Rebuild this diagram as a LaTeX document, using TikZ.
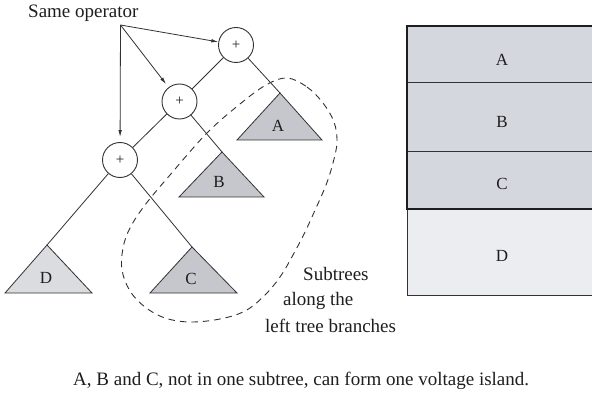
\documentclass[tikz,border=0pt]{standalone}
\usepackage{fontspec}
\setmainfont{Liberation Serif}
\usetikzlibrary{arrows.meta}
\definecolor{ink}{RGB}{30,30,30}
\definecolor{linec}{RGB}{50,50,50}
\definecolor{trifill}{RGB}{198,199,205}
\definecolor{trilight}{RGB}{219,220,224}
\definecolor{boxabc}{RGB}{213,215,223}
\definecolor{boxd}{RGB}{236,237,241}
\begin{document}
\begin{tikzpicture}[x=1pt,y=-1pt,
  opnode/.style={circle,draw=linec,line width=0.9pt,minimum size=35pt,inner sep=0pt,font=\fontsize{15}{15}\selectfont,text=ink},
  treeedge/.style={draw=linec,line width=0.8pt},
  tri/.style={draw=linec,line width=0.8pt},
  lab/.style={inner sep=0pt,font=\fontsize{17}{17}\selectfont,text=ink},
  txt/.style={inner sep=0pt,anchor=base west,font=\fontsize{19}{19}\selectfont,text=ink},
  arr/.style={draw=linec,line width=0.8pt,-{Latex[length=7pt,width=3.5pt]}},
  dashloop/.style={draw=linec,line width=0.9pt,dash pattern=on 6.5pt off 5pt}]
\clip (0,0) rectangle (592,393);
\fill[white] (0,0) rectangle (592,393);

% right box
\fill[boxabc] (407,26) rectangle (597,209);
\fill[boxd] (407,209) rectangle (597,295);
\draw[draw=linec,line width=0.8pt] (407,209) -- (407,295) -- (597,295);
\draw[draw=linec,line width=1pt] (407,83) -- (597,83);
\draw[draw=linec,line width=1pt] (407,152) -- (597,152);
\draw[draw=ink,line width=2pt] (407,26) rectangle (597,209);
\node[lab] (bA) at (502,60) {A};
\node[lab] (bB) at (502,122) {B};
\node[lab] (bC) at (502,184) {C};
\node[lab] (bD) at (502,256) {D};

% triangles
\coordinate (tA) at (280,93);
\coordinate (tB) at (222,152);
\coordinate (tC) at (192,247);
\coordinate (tD) at (47,245);
\filldraw[tri,fill=trifill] (tA) -- (322,140) -- (237,140) -- cycle;
\filldraw[tri,fill=trifill] (tB) -- (264,197) -- (179,197) -- cycle;
\filldraw[tri,fill=trifill] (tC) -- (237,293) -- (150,293) -- cycle;
\filldraw[tri,fill=trilight] (tD) -- (92,293) -- (5,293) -- cycle;
\node[lab] (lA) at (278,126) {A};
\node[lab] (lB) at (219,182) {B};
\node[lab] (lC) at (191,279) {C};
\node[lab] (lD) at (46,278) {D};

% operators
\node[opnode] (p1) at (236,45) {+};
\node[opnode] (p2) at (179.5,101.5) {+};
\node[opnode] (p3) at (120,160) {+};
\draw[treeedge] (p1) -- (p2);
\draw[treeedge] (p1) -- (tA);
\draw[treeedge] (p2) -- (p3);
\draw[treeedge] (p2) -- (tB);
\draw[treeedge] (p3) -- (tD);
\draw[treeedge] (p3) -- (tC);

% label and arrows
\node[txt] (so) at (28,18) {Same operator};
\coordinate (s) at (120.5,25);
\draw[arr] (s) -- (p1);
\draw[arr,shorten >=4pt] (s) -- (p2);
\draw[arr,shorten >=5pt] (s) -- (p3);

% dashed loop
\draw[dashloop] plot[smooth cycle,tension=0.6] coordinates {
 (287,78) (307,87) (323,103) (334,122) (337,142) (333,163) (326,185)
 (316,208) (305,232) (293,255) (280,277) (264,296) (245,311) (220,319)
 (190,322) (165,318) (145,307) (130,291) (122,270) (123,248) (130,228)
 (145,205) (170,175) (207,133) (240,104) (266,85)};

\node[txt] (t1) at (303,280) {Subtrees};
\node[txt] (t2) at (283,305) {along the};
\node[txt] (t3) at (265,332) {left tree branches};

\node[txt] (cap) at (73,385) {A, B and C, not in one subtree, can form one voltage island.};
\end{tikzpicture}
\end{document}
